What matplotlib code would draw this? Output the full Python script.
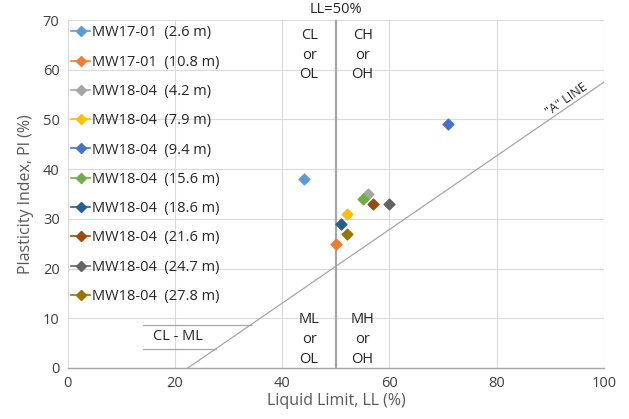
import matplotlib.pyplot as plt
from matplotlib.lines import Line2D

plt.rcParams['font.family'] = ['Open Sans', 'DejaVu Sans']

# ---- data ----
labels = ["MW17-01  (2.6 m)", "MW17-01  (10.8 m)", "MW18-04  (4.2 m)",
          "MW18-04  (7.9 m)", "MW18-04  (9.4 m)", "MW18-04  (15.6 m)",
          "MW18-04  (18.6 m)", "MW18-04  (21.6 m)", "MW18-04  (24.7 m)",
          "MW18-04  (27.8 m)"]
liquid_limit = [44, 50, 56, 52, 71, 55, 51, 57, 60, 52]
plasticity_index = [38, 25, 35, 31, 49, 34, 29, 33, 33, 27]
colors = ["#5B9BD5", "#ED7D31", "#A5A5A5", "#FFC000", "#4472C4",
          "#70AD47", "#255E91", "#9E480E", "#636363", "#997300"]

a_line_ll = [22.4, 100]
a_line_pi = [0, 57.5]
clml_upper_ll = [14, 34.1]
clml_upper_pi = [8.7, 8.7]
clml_lower_ll = [14, 27.6]
clml_lower_pi = [3.9, 3.9]
ll50_x = [50, 50]
ll50_y = [0, 70]

fig = plt.figure(figsize=(6.29, 4.19), dpi=100)
ax = fig.add_axes([0.108, 0.122, 0.852, 0.830])

line_col = "#A6A6A6"
ax.plot(a_line_ll, a_line_pi, color=line_col, lw=0.9, zorder=2)
ax.plot(clml_upper_ll, clml_upper_pi, color=line_col, lw=0.9, zorder=2)
ax.plot(clml_lower_ll, clml_lower_pi, color=line_col, lw=0.9, zorder=2)
ax.plot(ll50_x, ll50_y, color="#A6A6A6", lw=1.6, zorder=2)

handles = []
for x, y, c, lab in zip(liquid_limit, plasticity_index, colors, labels):
    ax.scatter([x], [y], marker="D", s=30, color=c, zorder=4)
    handles.append(Line2D([0], [0], color=c, marker="D", markersize=5, lw=1.2, label=lab))

ax.set_xlim(0, 100)
ax.set_ylim(0, 70)
ax.set_xticks(range(0, 101, 20))
ax.set_yticks(range(0, 71, 10))
ax.grid(True, color="#D9D9D9", lw=0.8)
ax.set_axisbelow(True)
ax.tick_params(length=0, labelsize=10.5, labelcolor="#404040", pad=6)
for s in ["top", "right", "left"]:
    ax.spines[s].set_visible(False)
ax.spines["bottom"].set_color("#A6A6A6")
ax.spines["bottom"].set_linewidth(1.0)

ax.set_xlabel("Liquid Limit, LL (%)", fontsize=11.5, color="#595959", labelpad=1)
ax.set_ylabel("Plasticity Index, PI (%)", fontsize=11.5, color="#595959", labelpad=6)

txt = dict(fontsize=10.5, color="#262626", ha="center", linespacing=1.45)
ax.text(50, 70.6, "LL=50%", va="bottom", **txt)
ax.text(45, 68.5, "CL\nor\nOL", va="top", **txt)
ax.text(55, 68.5, "CH\nor\nOH", va="top", **txt)
ax.text(45, 11.2, "ML\nor\nOL", va="top", **txt)
ax.text(55, 11.2, "MH\nor\nOH", va="top", **txt)
ax.text(20.5, 6.3, "CL - ML", va="center", **txt)
ax.text(93, 54.0, '"A" LINE', fontsize=9, color="#262626", rotation=35,
        ha="center", va="center", rotation_mode="anchor")

ax.legend(handles=handles, loc="upper left", bbox_to_anchor=(-0.01, 1.01),
          frameon=False, fontsize=10.5, labelspacing=0.98, handlelength=1.3,
          handletextpad=0.1, borderaxespad=0.2, labelcolor="#262626")

fig.savefig("out.png", dpi=100)
